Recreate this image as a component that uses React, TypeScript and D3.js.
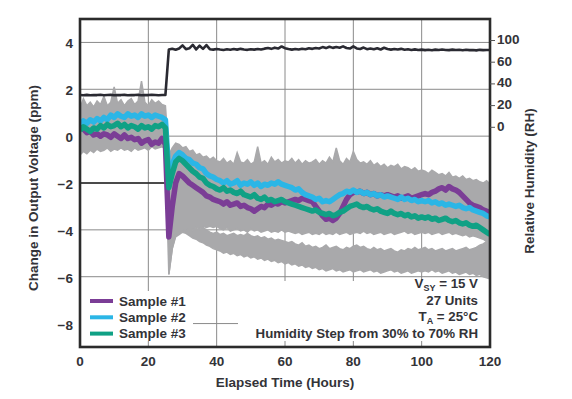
import * as React from "react"
import * as d3 from "d3"

// time axis: one reading per hour
const hours = d3.range(0, 121)

const xTicks = [0, 20, 40, 60, 80, 100, 120]
const yTicks = [4, 2, 0, -2, -4, -6, -8]
const rhTickLabels = ["0", "20", "40", "60", "100"]
const legendLabels = ["Sample #1", "Sample #2", "Sample #3"]

// ppm, sample #1 (purple)
const sample1 = [
  0.5, 0.3, 0.15, 0.2, 0.05, 0.1, 0.0, 0.1, 0.05, -0.05, 0.1, 0.0, -0.1, 0.05, -0.1, -0.05, -0.15, -0.1, -0.3, -0.2, -0.15, -0.35, -0.25, -0.3, -0.1, -0.35,
  -4.3, -3.0, -2.0, -1.6, -1.7, -1.85, -2.0, -2.1, -2.2, -2.3, -2.4, -2.55, -2.6, -2.7, -2.75,
  -2.8, -2.9, -2.8, -2.95, -2.9, -2.85, -3.0, -2.95, -3.05, -3.1, -3.2, -3.1, -3.0, -3.05, -2.9, -2.95, -2.85, -2.9, -2.8, -2.85,
  -2.8, -2.75, -2.7, -2.75, -2.65, -2.7, -2.75, -2.8, -3.0, -3.2, -3.4, -3.55, -3.5, -3.6, -3.5, -3.3, -3.0, -2.7, -2.5, -2.4,
  -2.4, -2.35, -2.45, -2.4, -2.5, -2.45, -2.55, -2.5, -2.55, -2.5, -2.55, -2.6, -2.55, -2.65, -2.6, -2.55, -2.65, -2.6, -2.55, -2.5,
  -2.45, -2.5, -2.4, -2.35, -2.25, -2.2, -2.3, -2.15, -2.25, -2.3, -2.4, -2.55, -2.7, -2.85, -2.95, -3.0, -3.05, -3.15, -3.2, -3.3,
]

// ppm, sample #2 (blue)
const sample2 = [
  0.5, 0.65, 0.55, 0.7, 0.6, 0.75, 0.65, 0.8, 0.7, 0.9, 0.8, 0.95, 0.85, 0.8, 0.95, 0.85, 0.9, 0.8, 0.95, 0.85, 0.9, 0.8, 0.9, 0.85, 0.8, 0.7,
  -1.6, -1.2, -0.85, -0.7, -0.8, -0.95, -1.0, -1.15, -1.2, -1.35, -1.4, -1.6, -1.7, -1.75, -1.85,
  -1.9, -2.0, -1.9, -2.05, -2.0, -1.9, -2.1, -2.0, -2.05, -1.95, -2.1, -2.0, -2.15, -2.05, -2.1, -2.0, -2.05, -1.95, -2.05, -2.1,
  -2.15, -2.2, -2.3, -2.25, -2.4, -2.5, -2.55, -2.6, -2.7, -2.65, -2.8, -2.75, -2.8, -2.7, -2.6, -2.5, -2.45, -2.35, -2.4, -2.3,
  -2.4, -2.35, -2.45, -2.4, -2.5, -2.45, -2.55, -2.5, -2.6, -2.55, -2.6, -2.65, -2.7, -2.6, -2.7, -2.65, -2.75, -2.7, -2.8, -2.75,
  -2.8, -2.75, -2.85, -2.8, -2.9, -2.85, -2.95, -2.9, -2.95, -3.0, -2.95, -3.05, -3.1, -3.05, -3.15, -3.2, -3.25, -3.3, -3.4, -3.45,
]

// ppm, sample #3 (green)
const sample3 = [
  0.25, 0.4, 0.3, 0.2, 0.35, 0.3, 0.45, 0.35, 0.5, 0.4, 0.45, 0.55, 0.4, 0.5, 0.35, 0.45, 0.4, 0.3, 0.45, 0.35, 0.4, 0.3, 0.45, 0.4, 0.5, 0.35,
  -2.2, -1.6, -1.1, -0.95, -1.05, -1.2, -1.35, -1.5, -1.6, -1.75, -1.8, -2.0, -2.1, -2.15, -2.25,
  -2.3, -2.2, -2.35, -2.3, -2.4, -2.45, -2.35, -2.5, -2.55, -2.6, -2.5, -2.65, -2.7, -2.6, -2.75, -2.7, -2.8, -2.75, -2.7, -2.8,
  -2.85, -2.9, -2.95, -3.0, -3.05, -3.1, -3.15, -3.2, -3.15, -3.25, -3.3, -3.35, -3.3, -3.4, -3.35, -3.25, -3.2, -3.1, -3.0, -2.95,
  -2.9, -3.0, -3.05, -3.0, -3.1, -3.15, -3.1, -3.2, -3.25, -3.3, -3.2, -3.3, -3.35, -3.3, -3.4, -3.35, -3.45, -3.4, -3.5, -3.45,
  -3.5, -3.45, -3.55, -3.5, -3.6, -3.55, -3.5, -3.6, -3.65, -3.6, -3.7, -3.75, -3.7, -3.8, -3.85, -3.8, -3.9, -4.0, -4.1, -4.2,
]

// ppm, envelope of the other units (gray): upper band top / bottom
const grayTop = [
  1.2, 1.6, 1.3, 1.45, 1.25, 1.5, 1.35, 1.7, 1.3, 1.45, 2.1, 1.4, 1.55, 1.3, 1.5, 1.6, 1.35, 1.5, 2.35, 1.45, 1.3, 1.55, 1.4, 1.5, 1.35, 1.3,
  -0.8, -0.5, -0.3, -0.35, -0.5, -0.45, -0.65, -0.6, -0.8, -0.75, -0.9, -0.85, -1.0, -0.9, -1.05,
  -1.1, -0.95, -1.15, -1.05, -1.2, -0.7, -1.1, -1.15, -1.0, -1.2, -1.1, -0.45, -1.15, -1.05, -1.2, -0.9, -1.1, -1.0, -1.15, -1.05,
  -1.1, -0.95, -1.15, -1.0, -1.2, -1.05, -1.15, -1.1, -1.0, -1.2, -1.05, -1.15, -0.9, -1.1, -0.5, -1.05, -1.2, -0.95, -1.1, -0.65,
  -1.0, -1.15, -1.1, -1.2, -1.05, -1.25, -1.15, -1.3, -1.2, -1.35, -1.25, -1.3, -1.2, -1.4, -1.3, -1.35, -1.45, -1.35, -1.5, -1.45,
  -1.5, -1.6, -1.45, -1.55, -1.65, -1.6, -1.7, -1.55, -1.75, -1.7, -1.8, -1.7, -1.85, -1.8, -1.9, -1.85, -1.95, -2.0, -1.9, -2.05,
]

const grayMidTop = [
  -0.8, -0.65, -0.75, -0.6, -0.7, -0.55, -0.65, -0.6, -0.5, -0.65, -0.55, -0.6, -0.5, -0.6, -0.55, -0.65, -0.5, -0.6, -0.55, -0.5, -0.6, -0.45, -0.55, -0.5, -0.45, -0.55,
  -5.9, -4.8, -4.2, -4.1, -4.0, -4.05, -3.95, -4.0, -3.9, -3.95, -3.85, -3.9, -3.85, -3.9, -3.85,
  -3.95, -4.0, -3.9, -4.05, -4.0, -3.95, -4.05, -4.0, -4.1, -3.95, -4.05, -4.0, -4.1, -4.05, -4.0, -4.1, -4.05, -4.1, -4.0, -4.1,
  -4.05, -4.1, -4.15, -4.1, -4.2, -4.15, -4.1, -4.2, -4.15, -4.2, -4.1, -4.2, -4.15, -4.2, -4.1, -4.2, -4.15, -4.1, -4.2, -4.15,
  -4.1, -4.15, -4.05, -4.15, -4.1, -4.2, -4.15, -4.1, -4.2, -4.15, -4.1, -4.2, -4.15, -4.1, -4.05, -4.15, -4.1, -4.2, -4.15, -4.1,
  -4.15, -4.1, -4.2, -4.15, -4.1, -4.2, -4.15, -4.1, -4.2, -4.15, -4.2, -4.25, -4.2, -4.3, -4.25, -4.3, -4.35, -4.4, -4.5, -4.6,
]

// lower gray band top / bottom (only after the humidity step)
const grayMidBottom = [
  null, null, null, null, null, null, null, null, null, null, null, null, null, null, null, null, null, null, null, null, null, null, null, null, null, null,
  -5.9, -4.8, -4.2, -4.1, -4.0, -4.05, -4.0, -4.05, -3.95, -4.0, -3.9, -4.0, -4.1, -4.15, -4.1,
  -4.2, -4.15, -4.25, -4.2, -4.15, -4.25, -4.2, -4.25, -4.15, -4.25, -4.3, -4.25, -4.35, -4.3, -4.4, -4.35, -4.45, -4.4, -4.45, -4.5,
  -4.55, -4.5, -4.6, -4.65, -4.55, -4.7, -4.65, -4.75, -4.7, -4.8, -4.75, -4.65, -4.8, -4.75, -4.7, -4.8, -4.85, -4.75, -4.8, -4.7,
  -4.65, -4.75, -4.7, -4.8, -4.85, -4.75, -4.85, -4.8, -4.9, -4.85, -4.8, -4.9, -4.95, -4.85, -4.9, -4.8, -4.85, -4.75, -4.85, -4.8,
  -4.75, -4.85, -4.8, -4.9, -4.85, -4.8, -4.9, -4.85, -4.8, -4.9, -4.85, -4.8, -4.75, -4.85, -4.8, -4.75, -4.65, -4.6, -4.5, -4.6,
]

const grayBottom = [
  null, null, null, null, null, null, null, null, null, null, null, null, null, null, null, null, null, null, null, null, null, null, null, null, null, null,
  -5.9, -4.8, -4.3, -4.2, -4.1, -4.15, -4.25, -4.35, -4.4, -4.5, -4.55, -4.65, -4.7, -4.8, -4.85,
  -4.9, -5.0, -4.95, -5.05, -5.0, -5.1, -5.05, -5.15, -5.1, -5.2, -5.15, -5.25, -5.2, -5.3, -5.25, -5.35, -5.3, -5.4, -5.35, -5.45,
  -5.4, -5.5, -5.45, -5.55, -5.5, -5.6, -5.55, -5.65, -5.6, -5.7, -5.65, -5.75, -5.7, -5.65, -5.75, -5.7, -5.8, -5.75, -5.7, -5.8,
  -5.75, -5.7, -5.8, -5.75, -5.7, -5.8, -5.75, -5.85, -5.8, -5.75, -5.7, -5.8, -5.75, -5.85, -5.8, -5.75, -5.85, -5.8, -5.75, -5.8,
  -5.75, -5.8, -5.7, -5.8, -5.75, -5.85, -5.8, -5.75, -5.85, -5.8, -5.9, -5.85, -5.8, -5.9, -5.85, -5.95, -5.9, -6.0, -6.05, -6.1,
]

// % RH, right axis
const humidity = [
  29.8, 29.5, 29.9, 29.6, 29.8, 29.7, 30.0, 29.6, 29.8, 29.9, 29.5, 29.8, 29.7, 29.9, 29.6, 29.8, 29.7, 29.9, 29.6, 29.8, 29.7, 29.9, 29.8, 29.6, 29.8, 29.9,
  71.7, 72.4, 71.5, 72.6, 75.5, 72.0, 72.8, 76.0, 71.8, 75.2, 72.3, 75.8, 72.0, 71.6, 72.2,
  71.7, 71.3, 71.9, 71.5, 72.1, 71.6, 72.3, 71.7, 71.4, 72.0, 71.6, 72.2, 71.7, 72.5, 73.1, 72.3, 73.4, 72.6, 74.5, 72.9,
  72.1, 71.6, 72.2, 71.7, 72.4, 71.9, 72.8, 72.3, 73.1, 72.7, 73.9, 73.0, 74.3, 73.2, 74.0, 73.4, 74.6, 73.1, 72.6, 74.6,
  72.7, 72.2, 73.5, 72.0, 72.6, 71.9, 72.9, 71.7, 73.3, 72.1, 71.6, 72.2, 71.7, 72.3, 71.5, 71.9, 71.3, 71.8, 71.2, 71.6,
  71.1, 71.5, 71.0, 71.6, 71.2, 71.7, 71.3, 71.1, 71.6, 71.2, 71.4, 71.0, 71.5, 71.1, 71.3, 70.9, 71.4, 71.1, 71.3, 71.2,
]

const W = 572
const H = 399
const margin = { top: 19, right: 82, bottom: 52, left: 80 }
const font = "'Liberation Sans', Arial, Helvetica, sans-serif"
const textColor = "#333338"
const colors = ["#7b3d96", "#2bb6e6", "#10a185"]
const gray = "#a9a9ab"

export default function App() {
  const x = d3.scaleLinear().domain([0, 120]).range([margin.left, W - margin.right])
  const y = d3.scaleLinear().domain([-9, 5]).range([H - margin.bottom, margin.top])
  // right axis labels are evenly spaced in the original
  const rhTicks = d3.scalePoint().domain(rhTickLabels).range([127.3, 40.5])
  const rh = d3.scaleLinear().domain([0, 40]).range([rhTicks("0"), rhTicks("40")])

  const x0 = x(0)
  const x1 = x(120)
  const y0 = y(-9)
  const y1 = y(5)
  const idx = hours.map((_, i) => i)

  const band = (top, bottom) =>
    d3
      .area<number>()
      .defined((i) => top[i] != null && bottom[i] != null)
      .x((i) => x(hours[i]))
      .y0((i) => y(bottom[i]))
      .y1((i) => y(top[i]))(idx)

  const line = (vals) =>
    d3
      .line<number>()
      .x((i) => x(hours[i]))
      .y((i) => y(vals[i]))(idx)

  const humLine = d3
    .line<number>()
    .x((i) => x(hours[i]))
    .y((i) => rh(humidity[i]))(idx)

  const samples = [sample1, sample2, sample3]

  return (
    <svg
      width={W}
      height={H}
      style={{ position: "absolute", left: 0, top: 0, background: "#fff" }}
      fontFamily={font}
      fontWeight="bold"
    >
      <defs>
        <clipPath id="plot">
          <rect x={x0} y={y1} width={x1 - x0} height={y0 - y1} />
        </clipPath>
      </defs>
      <rect width={W} height={H} fill="#fff" />

      {/* grid */}
      <g stroke="#8a8a8a" strokeWidth={1}>
        {xTicks.slice(1, -1).map((t) => (
          <line key={"gx" + t} x1={x(t)} x2={x(t)} y1={y1} y2={y0} />
        ))}
        {yTicks.map((t) => (
          <line key={"gy" + t} x1={x0} x2={x1} y1={y(t)} y2={y(t)} />
        ))}
      </g>
      <line x1={x0} x2={x(25.3)} y1={y(-2)} y2={y(-2)} stroke="#222" strokeWidth={1.3} />
      <line x1={x(107)} x2={x1} y1={y(-2)} y2={y(-2)} stroke="#333" strokeWidth={1.2} />

      {/* white boxes behind legend and notes */}
      <rect x={x0 + 1} y={291} width={112} height={50} fill="#fff" />
      <rect x={238} y={281} width={x1 - 239} height={60} fill="#fff" />

      <g clipPath="url(#plot)">
        <path d={band(grayTop, grayMidTop)} fill={gray} stroke={gray} strokeWidth={1.5} />
        <path d={band(grayMidBottom, grayBottom)} fill={gray} stroke={gray} strokeWidth={1.5} />
        {samples.map((s, k) => (
          <path key={k} d={line(s)} fill="none" stroke={colors[k]} strokeWidth={5.5} strokeLinejoin="round" />
        ))}
        <path d={humLine} fill="none" stroke="#2a2a32" strokeWidth={2.6} strokeLinejoin="round" />
      </g>

      {/* legend */}
      {legendLabels.map((l, k) => (
        <g key={l}>
          <line x1={90} x2={113} y1={301 + k * 16.3} y2={301 + k * 16.3} stroke={colors[k]} strokeWidth={4} />
          <text x={119} y={305.5 + k * 16.3} fontSize={13.5} fill={textColor}>
            {l}
          </text>
        </g>
      ))}

      {/* notes */}
      <g fontSize={13.3} fill={textColor} textAnchor="end">
        <text x={478} y={288}>
          V<tspan fontSize={9} dy={2.5}>SY</tspan>
          <tspan dy={-2.5}> = 15 V</tspan>
        </text>
        <text x={478} y={305}>27 Units</text>
        <text x={478} y={321}>
          T<tspan fontSize={9} dy={2.5}>A</tspan>
          <tspan dy={-2.5}> = 25°C</tspan>
        </text>
        <text x={478} y={337.5}>Humidity Step from 30% to 70% RH</text>
      </g>

      {/* frame */}
      <rect x={x0} y={y1} width={x1 - x0} height={y0 - y1} fill="none" stroke="#2b2b2b" strokeWidth={2.6} />

      {/* left axis */}
      <g fontSize={13.5} fill={textColor} textAnchor="end">
        {yTicks.map((t) => (
          <text key={t} x={73} y={y(t) + 6}>
            {t < 0 ? "\u2212" + Math.abs(t) : t}
          </text>
        ))}
      </g>
      {/* bottom axis */}
      <g fontSize={13.5} fill={textColor} textAnchor="middle">
        {xTicks.map((t) => (
          <text key={t} x={x(t)} y={366}>
            {t}
          </text>
        ))}
      </g>
      {/* right axis */}
      <g>
        {rhTickLabels.map((l) => (
          <g key={l}>
            <line x1={x1} x2={x1 + 5} y1={rhTicks(l)} y2={rhTicks(l)} stroke="#555" strokeWidth={1} />
            <text x={497} y={rhTicks(l) + 3.5} fontSize={13.5} fill={textColor}>
              {l}
            </text>
          </g>
        ))}
      </g>

      <text x={(x0 + x1) / 2} y={387} textAnchor="middle" fontSize={13.5} fill={textColor}>
        Elapsed Time (Hours)
      </text>
      <text transform="translate(38,188) rotate(-90)" textAnchor="middle" fontSize={13.5} fill={textColor}>
        Change in Output Voltage (ppm)
      </text>
      <text transform="translate(534,181) rotate(-90)" textAnchor="middle" fontSize={13.5} fill={textColor}>
        Relative Humidity (RH)
      </text>
    </svg>
  )
}
